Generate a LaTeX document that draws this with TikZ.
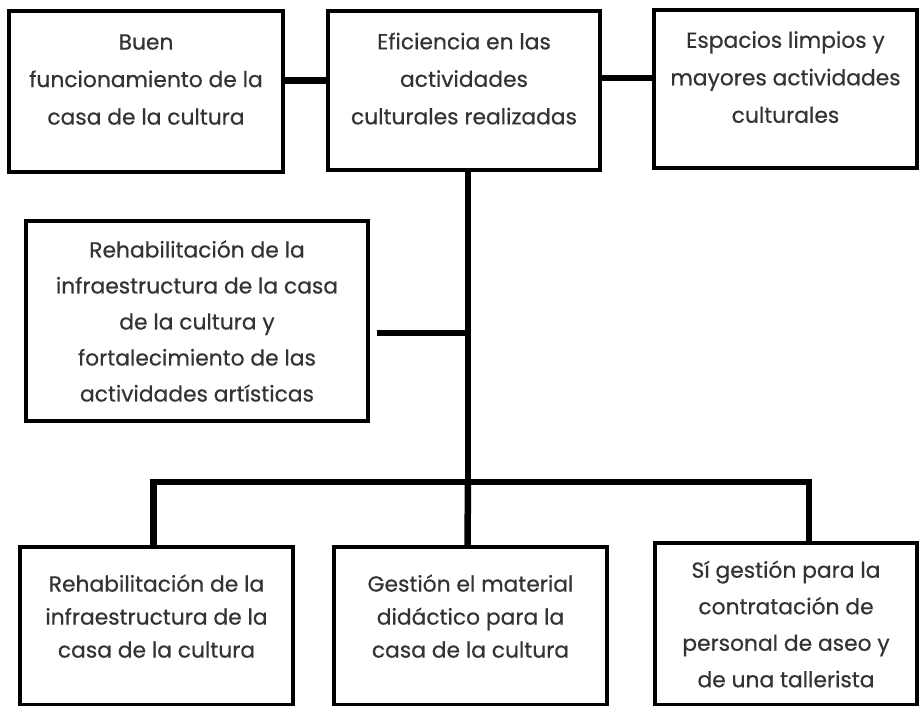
\documentclass[tikz,border=0pt]{standalone}
\usepackage{fontspec}
\setmainfont{Poppins}[FakeBold=0.5]
\usepackage{xcolor}
\usepackage{tikz}
\usetikzlibrary{positioning}

\begin{document}
\begin{tikzpicture}[
    x=1pt, y=1pt,
    every node/.style={font=\fontsize{21.8pt}{36pt}\selectfont, text=black!80},
    block/.style={rectangle, draw, line width=3.4pt, align=center, inner sep=0pt},
    link/.style={line width=6.5pt}
]
    \useasboundingbox (0,0) rectangle (919,706);

    % top row
    \node[block, minimum width=274, minimum height=161] (buen) at (146,614.5) {Buen\\[1.5pt]funcionamiento de la\\[1.5pt]casa de la cultura\\[-12pt]\mbox{}};
    \node[block, minimum width=272, minimum height=159] (eficiencia) at (464,615.5) {Eficiencia en las\\[1.5pt]actividades\\[1.5pt]culturales realizadas\\[-12pt]\mbox{}};
    \node[block, minimum width=263, minimum height=158] (espacios) at (785.5,617) {Espacios limpios y\\[1.5pt]mayores actividades\\[1.5pt]culturales\\[-12pt]\mbox{}};

    % middle
    \node[block, minimum width=342, minimum height=200] (rehab) at (197,385) {Rehabilitaci\'on de la\\infraestructura de la casa\\de la cultura y\\fortalecimiento de las\\actividades art\'isticas};

    % bottom row
    \node[block, minimum width=273, minimum height=158] (infra) at (156.5,80) {Rehabilitaci\'on de la\\[-3pt]infraestructura de la\\[-3pt]casa de la cultura\\[-16pt]\mbox{}};
    \node[block, minimum width=273, minimum height=158] (material) at (470.5,80) {Gesti\'on el material\\[-3pt]did\'actico para la\\[-3pt]casa de la cultura\\[-16pt]\mbox{}};
    \node[block, minimum width=262, minimum height=162] (personal) at (786,82) {S\'i gesti\'on para la\\[0.5pt]contrataci\'on de\\[0.5pt]personal de aseo y\\[0.5pt]de una tallerista};

    \coordinate (hub) at (468,224);

    \draw[link] ([yshift=11pt]buen.east) -- ([yshift=11pt]buen.east -| eficiencia.west);
    \draw[link] ([yshift=11pt]espacios.west -| eficiencia.east) -- ([yshift=11pt]espacios.west);
    \draw[link] (hub |- eficiencia.south) -- (hub);
    \draw[link] ([xshift=7pt,yshift=-12pt]rehab.east) -- ([yshift=-12pt]rehab.east -| hub);
    \draw[link] ([xshift=-3pt]infra.north) |- ([xshift=23pt]personal.north |- hub) -- ([xshift=23pt]personal.north);
    \draw[link] (hub) -- ([xshift=-3pt]material.north);
\end{tikzpicture}
\end{document}
